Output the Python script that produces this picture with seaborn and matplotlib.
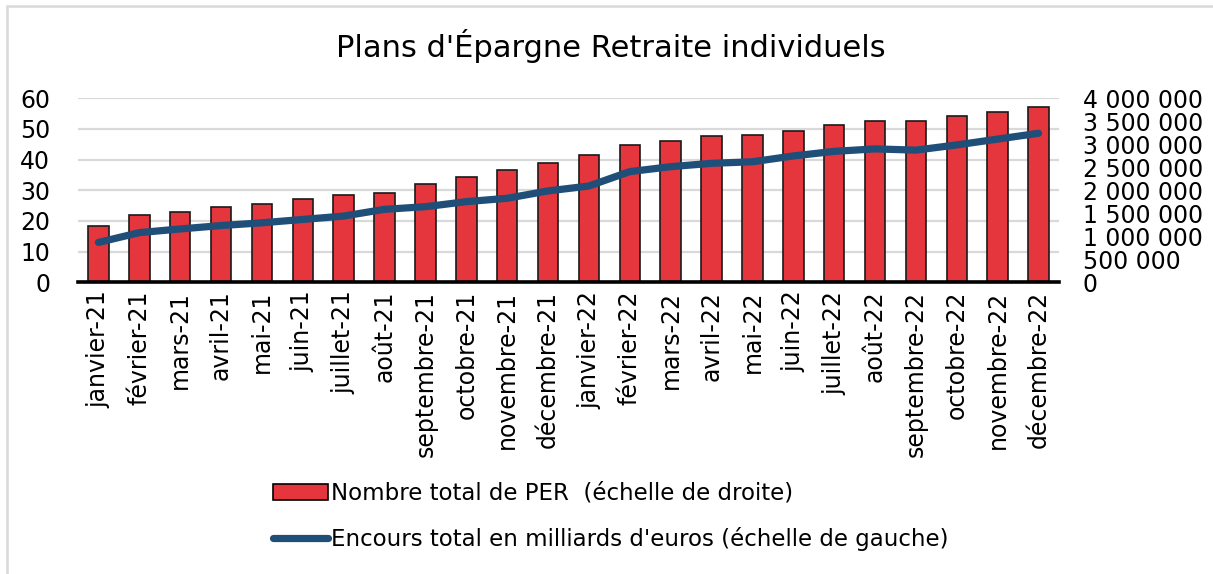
import numpy as np
import pandas as pd
import matplotlib
matplotlib.use("Agg")
import matplotlib.pyplot as plt
import seaborn as sns
from matplotlib.patches import Patch, Rectangle
from matplotlib.lines import Line2D
from matplotlib.ticker import FuncFormatter, MultipleLocator, FixedLocator

months = ["janvier-21", "février-21", "mars-21", "avril-21", "mai-21", "juin-21",
          "juillet-21", "août-21", "septembre-21", "octobre-21", "novembre-21", "décembre-21",
          "janvier-22", "février-22", "mars-22", "avril-22", "mai-22", "juin-22",
          "juillet-22", "août-22", "septembre-22", "octobre-22", "novembre-22", "décembre-22"]

nombre_per = [1230000, 1470000, 1535000, 1630000, 1700000, 1820000,
              1900000, 1940000, 2140000, 2280000, 2450000, 2600000,
              2770000, 2980000, 3070000, 3190000, 3200000, 3300000,
              3410000, 3510000, 3510000, 3610000, 3700000, 3810000]

encours = [13.0, 16.2, 17.4, 18.5, 19.4, 20.5,
           21.6, 23.8, 24.65, 26.3, 27.4, 29.8,
           31.4, 36.1, 37.7, 38.8, 39.3, 41.2,
           42.7, 43.5, 43.1, 44.8, 46.7, 48.6]

label_bars = "Nombre total de PER  (échelle de droite)"
label_line = "Encours total en milliards d'euros (échelle de gauche)"
title = "Plans d'Épargne Retraite individuels"

df = pd.DataFrame({"mois": months, "per": nombre_per, "encours": encours})

sns.set_theme(style="white")
plt.rcParams["font.family"] = ["DejaVu Sans"]
plt.rcParams["text.color"] = "black"

fig = plt.figure(figsize=(12.13, 5.74), dpi=100)
ax = fig.add_axes([78/1213, 1-282.3/574, (1059-78)/1213, (282.3-98.3)/574])

bar_color = "#e5363d"
line_color = "#1f4e79"

sns.barplot(data=df, x="mois", y="per", ax=ax, color=bar_color, width=0.5,
            edgecolor="#1a1a1a", linewidth=1.2, saturation=1)

ax2 = ax.twinx()
sns.lineplot(x=df.index, y=df["encours"], ax=ax2, color=line_color, linewidth=5.2,
             solid_capstyle="round", solid_joinstyle="round")

ax.set_xlim(-0.5, len(months) - 0.5)
ax.set_ylim(0, 4000000)
ax.yaxis.tick_right()
ax.yaxis.set_major_locator(MultipleLocator(500000))
ax.yaxis.set_major_formatter(FuncFormatter(lambda v, p: f"{int(v):,}".replace(",", " ")))
ax.yaxis.set_minor_locator(FixedLocator(np.linspace(0, 4000000, 7)))
ax.yaxis.remove_overlapping_locs = False
ax.grid(False)
ax.grid(True, which="minor", axis="y", color="#d9d9d9", linewidth=1.6)
ax.set_axisbelow(True)
ax.tick_params(axis="y", which="both", length=0, labelsize=17, pad=17, colors="black",
               left=False, labelleft=False, right=False, labelright=True)
ax.tick_params(axis="x", length=0, labelsize=17, pad=6, colors="black")
for lab in ax.get_xticklabels():
    lab.set_rotation(90)
    lab.set_va("top")
    lab.set_ha("center")
ax.set_xlabel("")
ax.set_ylabel("")
for s in ["top", "left", "right"]:
    ax.spines[s].set_visible(False)
ax.spines["bottom"].set_color("black")
ax.spines["bottom"].set_linewidth(2.6)
ax.spines["bottom"].set_zorder(5)

ax2.set_ylim(0, 60)
ax2.yaxis.set_major_locator(MultipleLocator(10))
ax2.tick_params(axis="y", length=0, labelsize=17, pad=20, colors="black",
                left=False, labelleft=True, right=False, labelright=False)
ax2.set_ylabel("")
ax2.grid(False)
for s in ax2.spines.values():
    s.set_visible(False)

fig.text(611/1213, 1-46/574, title, ha="center", va="center", fontsize=22, color="black")

handles = [Patch(facecolor=bar_color, edgecolor="black", linewidth=1.2),
           Line2D([0], [0], color=line_color, linewidth=5.2, solid_capstyle="round")]
leg = fig.legend(handles, [label_bars, label_line], loc="upper left",
                 bbox_to_anchor=(273/1213, 1-482/574), frameon=False, fontsize=16.5,
                 handlelength=2.4, handletextpad=0.15, labelspacing=0.95,
                 borderpad=0, borderaxespad=0)
for t in leg.get_texts():
    t.set_color("black")

fig.add_artist(Rectangle((7/1213, -0.05), 1.1, 1-6/574+0.05, transform=fig.transFigure,
                         fill=False, edgecolor="#d9d9d9", linewidth=1.8, clip_on=False))

fig.savefig("out.png", dpi=100)
